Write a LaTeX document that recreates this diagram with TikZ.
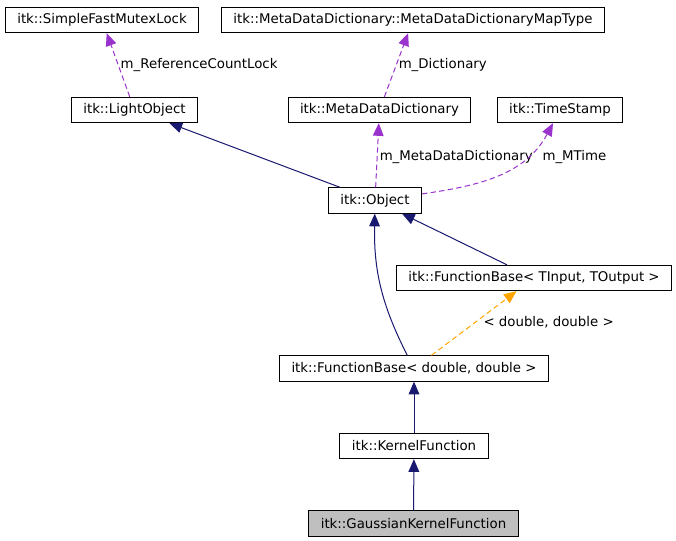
\documentclass[tikz,border=0pt]{standalone}
\usepackage{fontspec}
\setmainfont{DejaVu Sans}
\usetikzlibrary{arrows.meta}
\definecolor{inherit}{HTML}{191970}
\definecolor{member}{HTML}{9A32CD}
\definecolor{tmpl}{HTML}{FFA500}
\tikzset{>={Triangle[length=9.5pt,width=8pt]},
  cls/.style={draw,rectangle,line width=0.75pt,minimum height=19pt,inner xsep=9pt,inner ysep=0pt},
  base/.style={color=inherit,line width=0.75pt},
  uses/.style={color=member,line width=0.75pt,dash pattern=on 4pt off 2.5pt},
  inst/.style={color=tmpl,line width=0.75pt,dash pattern=on 4pt off 2.5pt},
  lbl/.style={inner sep=1.5pt,text=black}}

\begin{document}
\begin{tikzpicture}[x=0.75pt,y=0.75pt,font=\fontsize{10}{12}\selectfont]
  \useasboundingbox (0,0) rectangle (676,-541);
                   \node[cls] (mutex) at (102,-20)  {itk::SimpleFastMutexLock};
                   \node[cls] (maptype) at (413,-20) {itk::MetaDataDictionary::MetaDataDictionaryMapType};
                   \node[cls] (light) at (134.5,-110) {itk::LightObject};
                   \node[cls] (dict) at (379.5,-110) {itk::MetaDataDictionary};
                   \node[cls] (stamp) at (560,-110) {itk::TimeStamp};
                   \node[cls] (object) at (375,-200.5) {itk::Object};
                   \node[cls] (fbtempl) at (534,-278) {itk::FunctionBase< TInput, TOutput >};
                   \node[cls] (fbdouble) at (414,-368.5) {itk::FunctionBase< double, double >};
                   \node[cls] (kernel) at (414,-446) {itk::KernelFunction};
                   \node[cls,fill=black!25] (gauss) at (413.5,-523.5) {itk::GaussianKernelFunction};
                    \path[->,base]
                    (object) edge (light)
                    (fbtempl) edge (object)
                    (fbdouble) edge [bend left=14] (object)
                    (kernel) edge (fbdouble)
                    (gauss) edge (kernel);
                    \path[->]
                    (light) edge [uses] node [lbl,right] {m\_ReferenceCountLock} (mutex)
                    (dict) edge [uses] node [lbl,right] {m\_Dictionary} (maptype)
                    (object) edge [uses] node [lbl,right,yshift=-1pt] {m\_MetaDataDictionary} (dict)
                    (object) edge [uses,out=8,in=-118] node [lbl,right,pos=0.74,xshift=9pt,yshift=-1pt] {m\_MTime} (stamp)
                    (fbdouble) edge [inst] node [lbl,right,pos=0.52,xshift=4pt] {< double, double >} (fbtempl);
                \end{tikzpicture}
\end{document}
